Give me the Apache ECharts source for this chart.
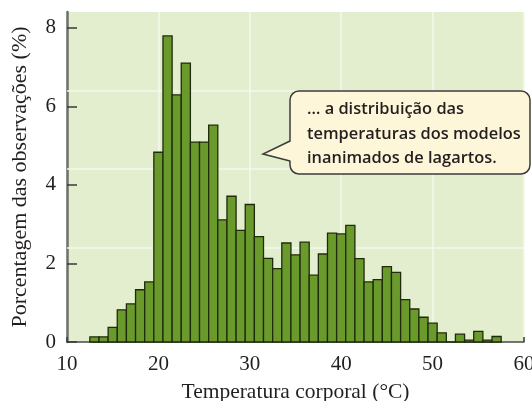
<!DOCTYPE html>
<html>
<head>
<meta charset="utf-8">
<script src="https://cdn.jsdelivr.net/npm/echarts@6/dist/echarts.min.js"></script>
<style>
  html, body { margin: 0; padding: 0; background: #ffffff; }
  #chart { width: 532px; height: 401px; }
</style>
</head>
<body>
<div id="chart"></div>
<script>
// Centre of each 1 °C bin (°C)
const binCenters = [13, 14, 15, 16, 17, 18, 19, 20, 21, 22, 23, 24, 25, 26, 27, 28, 29, 30, 31, 32, 33, 34, 35,
                    36, 37, 38, 39, 40, 41, 42, 43, 44, 45, 46, 47, 48, 49, 50, 51, 52, 53, 54, 55, 56, 57];
// Share of observations falling in each bin (%)
const percentages = [0.13, 0.13, 0.37, 0.82, 0.97, 1.33, 1.53, 4.83, 7.79, 6.29, 7.10, 5.09, 5.09, 5.52, 3.11, 3.71,
                     2.84, 3.50, 2.68, 2.13, 1.87, 2.52, 2.22, 2.54, 1.70, 2.24, 2.77, 2.75, 2.97, 2.12, 1.53, 1.59,
                     1.92, 1.77, 1.08, 0.84, 0.63, 0.48, 0.23, 0.00, 0.20, 0.05, 0.27, 0.05, 0.14];
const xTicks = [10, 20, 30, 40, 50, 60];
const yTicks = [0, 2, 4, 6, 8];
// Light horizontal bands across the plot
const bandLevels = [2.4, 4.4, 6.4];
const calloutLines = ['\u2026 a distribuição das', 'temperaturas dos modelos', 'inanimados de lagartos.'];

const serif = '"Liberation Serif", "Times New Roman", serif';
const sans = '"Open Sans", "Noto Sans", sans-serif';
const ink = '#231f20';

const chart = echarts.init(document.getElementById('chart'), null, { renderer: 'canvas' });

const histData = binCenters.map((c, i) => [c, percentages[i]]);

// Callout bubble: rounded box plus a pointer on its left side
const box = { x: 290, y: 91, width: 240, height: 83, r: 9 };
const tip = [263, 154];
const pointerTop = 141, pointerBottom = 161;
const bubbleFill = '#fdf6d8', bubbleStroke = '#3c3c3c';

chart.setOption({
  animation: false,
  grid: {
    left: 67, right: 8, top: 12, bottom: 59,
    outerBoundsMode: 'none',
    show: true, backgroundColor: '#e3eecf', borderWidth: 0
  },
  xAxis: {
    type: 'value',
    min: xTicks[0], max: xTicks[xTicks.length - 1], interval: 10,
    name: 'Temperatura corporal (°C)',
    nameLocation: 'middle', nameGap: 39,
    nameTextStyle: { fontFamily: serif, fontSize: 21.5, color: ink },
    axisLine: { show: true, lineStyle: { color: '#4a4a4a', width: 1.5 } },
    axisTick: { show: true, inside: true, length: 5, lineStyle: { color: '#3a3a3a', width: 1.5 } },
    axisLabel: { fontFamily: serif, fontSize: 21, color: ink, margin: 12 },
    splitLine: { show: true, lineStyle: { color: '#f4f8ec', width: 1.5 } }
  },
  yAxis: {
    type: 'value',
    min: 0, max: 8.4, interval: 2,
    name: 'Porcentagem das observações (%)',
    nameLocation: 'middle', nameGap: 36,
    nameTextStyle: { fontFamily: serif, fontSize: 22, color: ink },
    axisLine: { show: true, lineStyle: { color: '#6e6e6e', width: 2.5 } },
    axisTick: { show: true, inside: true, length: 10, customValues: yTicks,
                lineStyle: { color: '#3a3a3a', width: 1.5 } },
    axisLabel: { fontFamily: serif, fontSize: 21, color: ink, margin: 11,
                 customValues: yTicks },
    splitLine: { show: false }
  },
  series: [{
    type: 'custom',
    data: histData,
    encode: { x: 0, y: 1 },
    renderItem: function (params, api) {
      const c = api.value(0), v = api.value(1);
      const topLeft = api.coord([c - 0.5, v]);
      const bottomRight = api.coord([c + 0.5, 0]);
      return {
        type: 'rect',
        shape: { x: topLeft[0], y: topLeft[1],
                 width: bottomRight[0] - topLeft[0], height: bottomRight[1] - topLeft[1] },
        style: { fill: '#6b9a2c', stroke: '#1f2b0c', lineWidth: 1.3 }
      };
    },
    markLine: {
      silent: true, z: 1, symbol: 'none',
      label: { show: false },
      lineStyle: { color: '#f4f8ec', width: 1.5, type: 'solid' },
      data: bandLevels.map(v => ({ yAxis: v }))
    }
  }],
  graphic: [{
    type: 'group',
    z: 100,
    children: [{
      type: 'rect', z: 100,
      shape: { x: box.x, y: box.y, width: box.width, height: box.height, r: box.r },
      style: { fill: bubbleFill, stroke: bubbleStroke, lineWidth: 1.5 }
    }, {
      type: 'polygon', z: 101,
      shape: { points: [tip, [box.x + 2, pointerTop], [box.x + 2, pointerBottom]] },
      style: { fill: bubbleFill, stroke: null }
    }, {
      type: 'polyline', z: 102,
      shape: { points: [[box.x, pointerTop], tip, [box.x, pointerBottom]] },
      style: { fill: null, stroke: bubbleStroke, lineWidth: 1.5, lineJoin: 'miter' }
    }, {
      type: 'text', z: 103,
      x: 307, y: 97,
      style: {
        text: calloutLines.join('\n'),
        font: '600 16.4px ' + sans,
        fill: ink,
        lineHeight: 24.7,
        verticalAlign: 'top'
      }
    }]
  }]
});
</script>
</body>
</html>
